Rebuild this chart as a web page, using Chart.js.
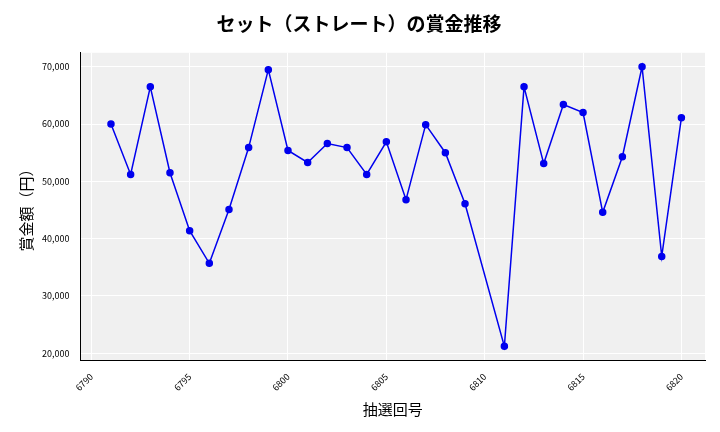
<!DOCTYPE html>
<html>
<head>
<meta charset="utf-8">
<script src="https://cdn.jsdelivr.net/npm/chart.js@4"></script>
<style>
body { margin:0; background:#fff; }
#wrap { width:720px; height:432px; }
</style>
</head>
<body>
<div id="wrap"><canvas id="c"></canvas></div>
<script>
// 抽選回号と賞金額
const draws = [6791,6792,6793,6794,6795,6796,6797,6798,6799,6800,6801,6802,6803,6804,6805,6806,6807,6808,6809,6811,6812,6813,6814,6815,6816,6817,6818,6819,6820];
const prizes = [60000,51200,66500,51500,41400,35700,45100,55900,69500,55400,53300,56600,55900,51200,56900,46800,59900,55000,46100,21200,66500,53100,63400,62000,44600,54300,70000,36900,61100];
const xTicks = [6790,6795,6800,6805,6810,6815,6820];
const yTicks = [20000,30000,40000,50000,60000,70000];

const font = "'Noto Sans CJK JP', 'DejaVu Sans', sans-serif";

const plotBg = {
    id: 'plotBg',
    beforeDraw(chart) {
        const a = chart.chartArea, ctx = chart.ctx;
        ctx.save();
        ctx.fillStyle = '#f0f0f0';
        ctx.fillRect(a.left, a.top, a.right - a.left, a.bottom - a.top);
        ctx.restore();
    }
};

new Chart(document.getElementById('c'), {
    type: 'line',
    data: {
        datasets: [{
            data: draws.map((d, i) => ({x: d, y: prizes[i]})),
            borderColor: '#0000ee',
            backgroundColor: '#0000ee',
            borderWidth: 1.5,
            pointRadius: 3,
            tension: 0
        }]
    },
    options: {
        responsive: true,
        maintainAspectRatio: false,
        animation: false,
        layout: { padding: {left: 13, right: 15, top: 4, bottom: 10} },
        plugins: {
            legend: { display: false },
            tooltip: { enabled: false },
            title: {
                display: true,
                text: 'セット（ストレート）の賞金推移',
                color: '#000',
                font: { family: font, size: 19, weight: 'bold' },
                padding: { top: 8, bottom: 18 }
            }
        },
        scales: {
            x: {
                type: 'linear',
                min: 6789.45, max: 6821.2,
                afterBuildTicks: ax => { ax.ticks = xTicks.map(v => ({value: v})); },
                ticks: { color: '#000', font: { family: font, size: 9 }, maxRotation: 45, minRotation: 45, callback: v => String(v) },
                grid: { color: '#ffffff', lineWidth: 1 },
                border: { color: '#000' },
                title: { display: true, text: '抽選回号', color: '#000', font: { family: font, size: 15 } }
            },
            y: {
                min: 18780, max: 72440,
                afterBuildTicks: ax => { ax.ticks = yTicks.map(v => ({value: v})); },
                ticks: { color: '#000', font: { family: font, size: 9 }, callback: v => v.toLocaleString('en-US') },
                grid: { color: '#ffffff', lineWidth: 1 },
                border: { color: '#000' },
                title: { display: true, text: '賞金額（円）', color: '#000', font: { family: font, size: 15 } }
            }
        }
    },
    plugins: [plotBg]
});
</script>
</body>
</html>
